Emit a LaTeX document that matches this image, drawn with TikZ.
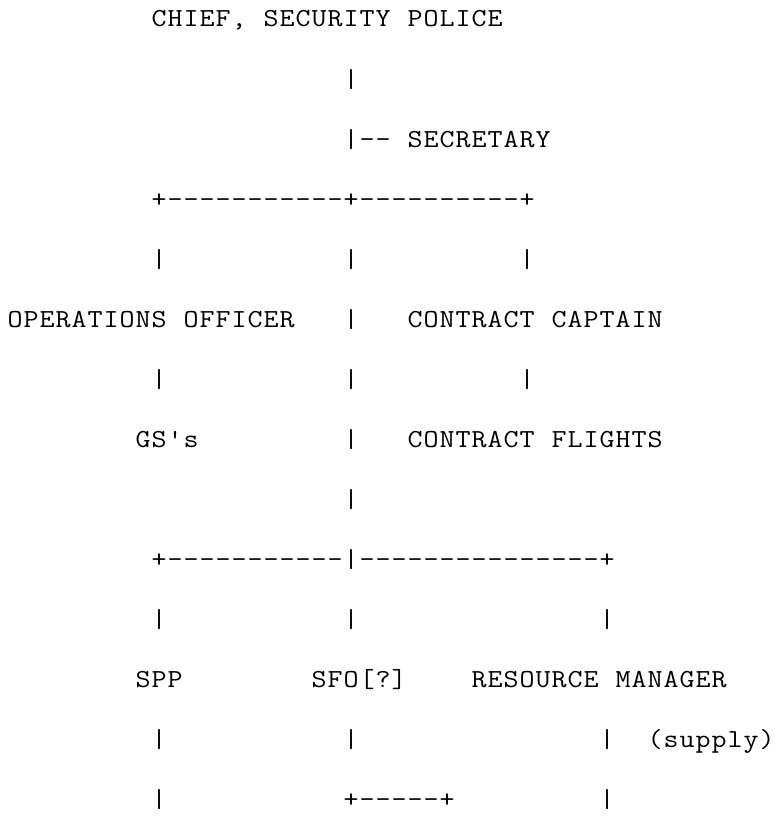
\documentclass[tikz,border=0pt]{standalone}
\usepackage{fontspec}
\usepackage{graphicx}
% one fixed cell per character, ~ stands for a blank
\newcommand\tty[1]{\ttyloop#1\relax}
\def\ttyloop#1{\ifx#1\relax\else\makebox[16pt]{\scalebox{1.12}[1]{#1}}\expandafter\ttyloop\fi}

\begin{document}
\begin{tikzpicture}[x=16pt,y=-60pt]
\tikzstyle{every node}=[inner sep=0pt,anchor=base west,font=\fontsize{26pt}{26pt}\ttfamily]
\useasboundingbox (-7pt,0pt) rectangle (767pt,-816pt);
\begin{scope}[yshift=-27pt]
\node (chief) at (9,0) {\tty{CHIEF,~SECURITY~POLICE}};
\node (bar1) at (21,1) {\tty{|}};
\node (secretary) at (21,2) {\tty{|--~SECRETARY}};
\node (topbar) at (9,3) {\tty{+-----------+----------+}};
\foreach \c in {9,21,32} \node (up-\c) at (\c,4) {\tty{|}};
\node (ops) at (0,5) {\tty{OPERATIONS~OFFICER}};
\node (bar5) at (21,5) {\tty{|}};
\node (captain) at (25,5) {\tty{CONTRACT~CAPTAIN}};
\foreach \c in {9,21,32} \node (down-\c) at (\c,6) {\tty{|}};
\node (gs) at (8,7) {\tty{GS's}};
\node (bar7) at (21,7) {\tty{|}};
\node (flights) at (25,7) {\tty{CONTRACT~FLIGHTS}};
\node (bar8) at (21,8) {\tty{|}};
\node (lowbar) at (9,9) {\tty{+-----------|---------------+}};
\foreach \c in {9,21,37} \node (drop-\c) at (\c,10) {\tty{|}};
\node (spp) at (8,11) {\tty{SPP}};
\node (sfo) at (19,11) {\tty{SFO[?]}};
\node (resmgr) at (29,11) {\tty{RESOURCE~MANAGER}};
\foreach \c in {9,21,37} \node (under-\c) at (\c,12) {\tty{|}};
\node (supply) at (40,12) {\tty{(supply)}};
\node (left13) at (9,13) {\tty{|}};
\node (link) at (21,13) {\tty{+-----+}};
\node (right13) at (37,13) {\tty{|}};
\end{scope}
\end{tikzpicture}
\end{document}
